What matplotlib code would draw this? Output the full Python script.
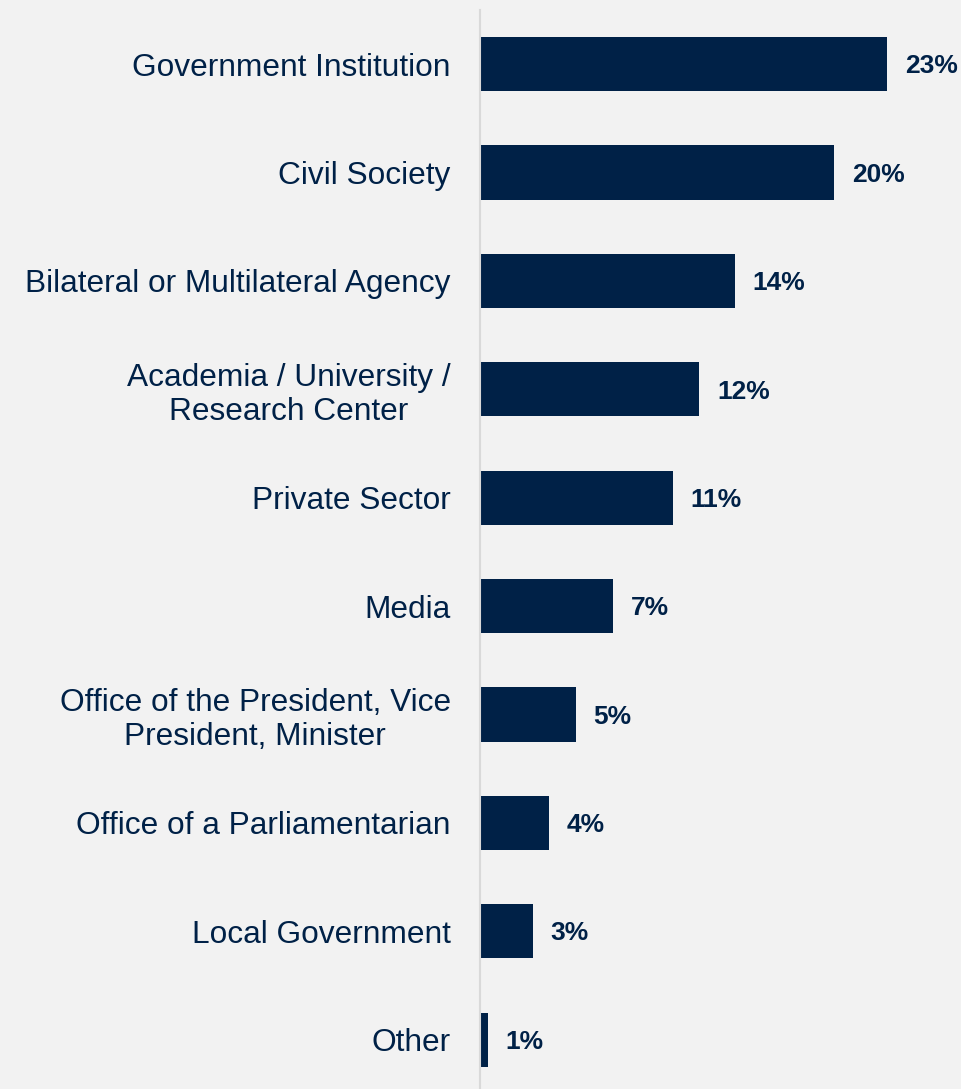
import matplotlib.pyplot as plt

categories = ["Government Institution", "Civil Society", "Bilateral or Multilateral Agency",
              "Academia / University /\nResearch Center", "Private Sector", "Media",
              "Office of the President, Vice\nPresident, Minister", "Office of a Parliamentarian",
              "Local Government", "Other"]
values = [23.0, 20.0, 14.4, 12.4, 10.9, 7.5, 5.4, 3.9, 3.0, 0.45]
value_labels = ["23%", "20%", "14%", "12%", "11%", "7%", "5%", "4%", "3%", "1%"]

bg = "#f2f2f2"
navy = "#002147"

plt.rcParams['font.family'] = ['Liberation Sans', 'DejaVu Sans']

fig = plt.figure(figsize=(9.62, 10.89), dpi=100, facecolor=bg)
ax = fig.add_axes([480/962, 0, 1 - 480/962, 1 - 10/1089])
ax.set_facecolor(bg)

ypos = list(range(len(categories)))
ax.barh(ypos, values, height=0.5, color=navy)
ax.set_ylim(9.455, -0.5)
ax.set_xlim(0, 482/17.7)

for y, v, lab in zip(ypos, values, value_labels):
    ax.text(v + 1.0, y + 0.02, lab, va="center", ha="left", fontsize=19, fontweight="bold", color=navy)

ax.set_yticks(ypos)
ax.set_yticklabels(categories, fontsize=22.8, color=navy, ha="right",
                   multialignment="center", linespacing=1.18)
ax.tick_params(axis="y", length=0, pad=21)
ax.set_xticks([])
for s in ["top", "right", "bottom"]:
    ax.spines[s].set_visible(False)
ax.spines["left"].set_color("#d9d9d9")
ax.spines["left"].set_linewidth(1.5)

fig.savefig("out.png", dpi=100, facecolor=bg)
